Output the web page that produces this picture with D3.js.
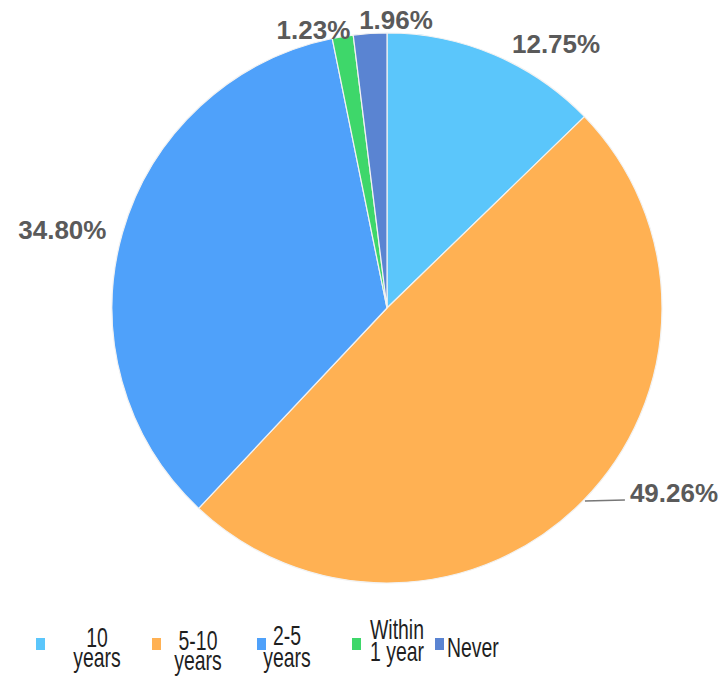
<!DOCTYPE html>
<html>
<head>
<meta charset="utf-8">
<script src="https://cdn.jsdelivr.net/npm/d3@7/dist/d3.min.js"></script>
<style>
  html, body { margin: 0; padding: 0; background: #fff; }
  svg { display: block; }
</style>
</head>
<body>
<svg id="chart" width="726" height="677"></svg>
<script>
// Share of respondents by time period
const categories = ["10 years", "5-10 years", "2-5 years", "Within 1 year", "Never"];
const legendLines = [["10", "years"], ["5-10", "years"], ["2-5", "years"], ["Within", "1 year"], ["Never"]];
const shares = [12.75, 49.26, 34.80, 1.23, 1.96];
const colors = ["#5bc6fb", "#ffb153", "#4fa1fa", "#3ed76a", "#5a84d2"];

const svg = d3.select("#chart");
const cx = 387, cy = 308, radius = 275;

const pie = d3.pie().sort(null).value(d => d.v);
const arcs = pie(shares.map((v, i) => ({ v, i })));
const arc = d3.arc().innerRadius(0).outerRadius(radius);

const g = svg.append("g").attr("transform", `translate(${cx},${cy})`);

g.selectAll("path.slice")
  .data(arcs)
  .join("path")
  .attr("class", "slice")
  .attr("d", arc)
  .attr("fill", d => colors[d.data.i])
  .attr("stroke", "#f2f2f2")
  .attr("stroke-width", 1.2);

// Percentage labels, placed off the rim along each slice's mid-angle
const labelFont = "'Liberation Sans', Arial, sans-serif";
const pointAt = (angle, r) => [Math.sin(angle) * r, -Math.cos(angle) * r];
// per-slice nudges for the label anchor (dx, dy) and text-anchor
const labelNudge = [
  { r: 300, dx: 8, dy: 21, anchor: "start" },
  { r: 275, dx: 47, dy: 1, anchor: "start", leader: true },
  { r: 300, dx: 8, dy: 13, anchor: "end" },
  { r: 290, dx: 10, dy: 17, anchor: "end" },
  { r: 290, dx: -10, dy: 10, anchor: "start" }
];

arcs.forEach(d => {
  const mid = (d.startAngle + d.endAngle) / 2;
  const nz = labelNudge[d.data.i];
  const [px, py] = pointAt(mid, nz.r);
  if (nz.leader) {
    const [ex, ey] = pointAt(mid, radius);
    g.append("path")
      .attr("d", `M${ex + 2},${ey}L${ex + 42},${ey - 1}`)
      .attr("stroke", "#777")
      .attr("stroke-width", 1.3)
      .attr("fill", "none");
  }
  g.append("text")
    .attr("x", px + nz.dx)
    .attr("y", py + nz.dy)
    .attr("text-anchor", nz.anchor)
    .attr("font-family", labelFont)
    .attr("font-weight", "bold")
    .attr("font-size", 26)
    .attr("fill", "#5a5a5a")
    .text(shares[d.data.i].toFixed(2) + "%");
});

// Legend: condensed text made by squeezing the glyphs horizontally
const legendFont = "'Liberation Sans', Arial, sans-serif";
const legendSwatchX = [36, 152, 257, 352, 435];
const legendTextX = [97, 198, 287, 397, 447];
const legendBaselines = [[647, 667], [650, 670], [645, 667], [639, 661], [657]];
const legend = svg.append("g");
categories.forEach((c, i) => {
  legend.append("rect")
    .attr("x", legendSwatchX[i])
    .attr("y", 638)
    .attr("width", 9)
    .attr("height", 12)
    .attr("fill", colors[i]);
  const lines = legendLines[i];
  lines.forEach((ln, k) => {
    legend.append("text")
      .attr("font-family", legendFont)
      .attr("font-size", 27)
      .attr("fill", "#1f1f1f")
      .attr("text-anchor", lines.length > 1 ? "middle" : "start")
      .attr("transform", `translate(${legendTextX[i]},${legendBaselines[i][k]}) scale(0.72,1)`)
      .text(ln);
  });
});
</script>
</body>
</html>
